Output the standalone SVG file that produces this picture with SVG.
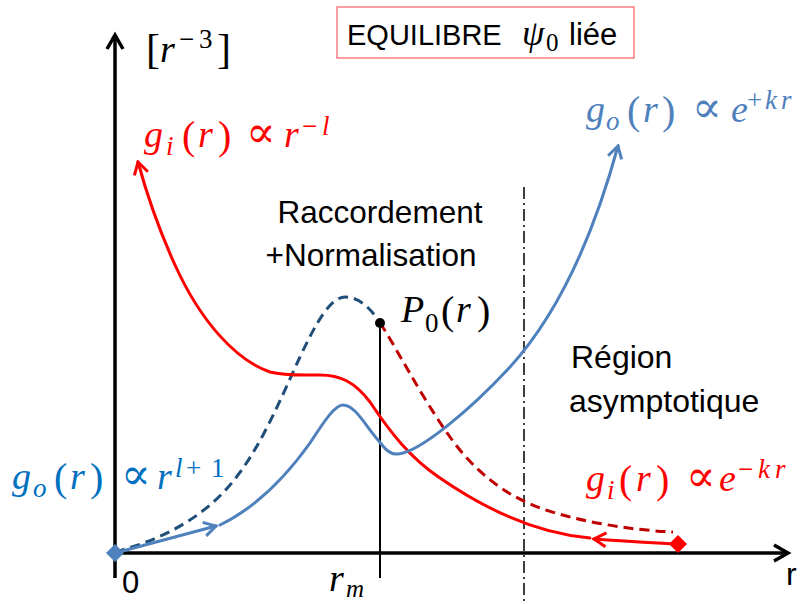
<svg xmlns="http://www.w3.org/2000/svg" width="810" height="604" viewBox="0 0 810 604">
<style>
.sans{font-family:"Liberation Sans",Arial,sans-serif;fill:#000}
.m{font-family:"Liberation Serif","DejaVu Serif",serif;font-size:38px}
.i{font-style:italic}
.s{font-size:27px}
.p{font-size:40px}
.pr{font-family:"DejaVu Serif",serif;font-size:44px}
.ax{fill:none;stroke:#000;stroke-width:3.5}
.cv{fill:none;stroke-width:3;stroke-linecap:round}
.red{stroke:#FF0000}
.blue{stroke:#4F81BD}
.dnavy{stroke:#1F4E79;stroke-dasharray:10 6;stroke-linecap:butt}
.dred{stroke:#C00000;stroke-dasharray:10 6;stroke-linecap:butt}
</style>
<defs>
<marker id="arrRed" viewBox="-14 -9 16 18" markerWidth="16" markerHeight="18" refX="0" refY="0" orient="auto" markerUnits="userSpaceOnUse">
<path d="M-12,-7 L0,0 L-12,7" fill="none" stroke="#FF0000" stroke-width="3" stroke-linejoin="miter"/>
</marker>
<marker id="arrBlue" viewBox="-14 -9 16 18" markerWidth="16" markerHeight="18" refX="0" refY="0" orient="auto" markerUnits="userSpaceOnUse">
<path d="M-12,-7 L0,0 L-12,7" fill="none" stroke="#4F81BD" stroke-width="3" stroke-linejoin="miter"/>
</marker>
</defs>
<rect width="810" height="604" fill="#fff"/>

<g id="axes">
<line x1="115" y1="578" x2="115" y2="37" class="ax"/>
<path d="M107,49 L115,35 L123,49" class="ax"/>
<line x1="108" y1="553" x2="786" y2="553" class="ax"/>
<path d="M774,545 L788,553 L774,561" class="ax"/>
<line x1="380" y1="323" x2="380" y2="578" stroke="#000" stroke-width="2"/>
<line x1="524" y1="187" x2="524" y2="604" stroke="#000" stroke-width="1.5" stroke-dasharray="12 4 2 4"/>
</g>

<g id="connectors">
<path class="cv dnavy" d="M115,552 C160,540 200,520 230,485 C260,450 280,400 300,357 C315,325 330,297 345,297 C360,297 372,310 380,323"/>
<path class="cv dred" d="M380,323 C395,345 420,395 450,437 C475,472 505,495 540,508 C580,522 630,530 673,532"/>
<path class="cv red" marker-end="url(#arrRed)" d="M590,538 C545,534 495,516 440,478 C410,458 390,432 370,402 C355,382 340,375 320,375 C300,375 285,376 270,372 C235,360 200,320 175,265 C160,232 147,195 138,162"/>
<path class="cv red" marker-end="url(#arrRed)" d="M678,544 C650,543 622,541 594,539"/>
<path class="cv blue" marker-end="url(#arrBlue)" d="M115,553 L216,526"/>
<path class="cv blue" marker-end="url(#arrBlue)" d="M220,525 C255,508 285,478 310,443 C325,420 335,405 343,405 C355,405 365,425 378,440 C385,449 390,455 398,454 C420,452 470,410 510,367 C560,312 595,230 618,146"/>
<polygon points="106,553 115,544 124,553 115,562" fill="#4F81BD"/>
<polygon points="669,544 678,535 687,544 678,553" fill="#FF0000"/>
<circle cx="380" cy="323" r="5" fill="#000"/>
</g>

<g id="title">
<rect x="337" y="7" width="297" height="51" fill="#fff" stroke="#FF7C80" stroke-width="1.5"/>
<text class="sans" x="347" y="45" font-size="29">EQUILIBRE</text>
<text class="m" fill="#000"><tspan x="522" y="45" class="i" font-size="36">ψ</tspan><tspan x="546" y="51" font-size="25">0</tspan></text>
<text class="sans" x="569" y="45" font-size="31">liée</text>
</g>

<g id="yunit">
<text class="m" fill="#000"><tspan x="146" y="63" font-size="42">[</tspan><tspan x="160" y="62" class="i">r</tspan><tspan x="179" y="48" class="s">−</tspan><tspan x="199" y="48" class="s">3</tspan><tspan x="217" y="63" font-size="42">]</tspan></text>
</g>

<g id="label-gi-left">
<text class="m" fill="#FF0000"><tspan x="144" y="147" class="i">g</tspan><tspan x="166" y="155" class="s i">i</tspan><tspan x="182" y="149" class="p">(</tspan><tspan x="198" y="147" class="i">r</tspan><tspan x="218" y="149" class="p">)</tspan><tspan x="246" y="147" class="pr">∝</tspan><tspan x="284" y="147" class="i">r</tspan><tspan x="302" y="135" class="s">−</tspan><tspan x="322" y="135" class="s i">l</tspan></text>
</g>

<g id="label-go-right">
<text class="m" fill="#4F81BD"><tspan x="586" y="122" class="i">g</tspan><tspan x="606" y="130" class="s i">o</tspan><tspan x="627" y="124" class="p">(</tspan><tspan x="643" y="122" class="i">r</tspan><tspan x="662" y="124" class="p">)</tspan><tspan x="692" y="122" class="pr">∝</tspan><tspan x="731" y="122" class="i">e</tspan><tspan x="747" y="109" class="s">+</tspan><tspan x="765" y="109" class="s i">k</tspan><tspan x="781" y="109" class="s i">r</tspan></text>
</g>

<g id="label-go-left">
<text class="m" fill="#0070C0"><tspan x="12" y="489" class="i">g</tspan><tspan x="33" y="497" class="s i">o</tspan><tspan x="54" y="491" class="p">(</tspan><tspan x="70" y="489" class="i">r</tspan><tspan x="90" y="491" class="p">)</tspan><tspan x="121" y="489" class="pr">∝</tspan><tspan x="157" y="489" class="i">r</tspan><tspan x="175" y="477" class="s i">l</tspan><tspan x="186" y="477" class="s">+</tspan><tspan x="211" y="477" class="s">1</tspan></text>
</g>

<g id="label-gi-right">
<text class="m" fill="#FF0000"><tspan x="586" y="491" class="i">g</tspan><tspan x="607" y="499" class="s i">i</tspan><tspan x="619" y="493" class="p">(</tspan><tspan x="636" y="491" class="i">r</tspan><tspan x="656" y="493" class="p">)</tspan><tspan x="686" y="491" class="pr">∝</tspan><tspan x="719" y="491" class="i">e</tspan><tspan x="738" y="478" class="s">−</tspan><tspan x="758" y="478" class="s i">k</tspan><tspan x="775" y="478" class="s i">r</tspan></text>
</g>

<g id="label-p0">
<text class="m" fill="#000"><tspan x="401" y="322" class="i">P</tspan><tspan x="425" y="332" class="s">0</tspan><tspan x="441" y="324" class="p">(</tspan><tspan x="456" y="322" class="i">r</tspan><tspan x="477" y="324" class="p">)</tspan></text>
</g>

<g id="label-raccordement">
<text class="sans" font-size="31.5" text-anchor="middle"><tspan x="380" y="223">Raccordement</tspan><tspan x="371" y="266">+Normalisation</tspan></text>
</g>

<g id="label-region">
<text class="sans" font-size="32"><tspan x="571" y="368">Région</tspan><tspan x="569" y="412">asymptotique</tspan></text>
</g>

<g id="axis-labels">
<text class="sans" x="122" y="593" font-size="31">0</text>
<text class="m" fill="#000"><tspan x="329" y="591" class="i">r</tspan><tspan x="346" y="597" font-size="25" class="i">m</tspan></text>
<text class="sans" x="786" y="585" font-size="32">r</text>
</g>
</svg>
